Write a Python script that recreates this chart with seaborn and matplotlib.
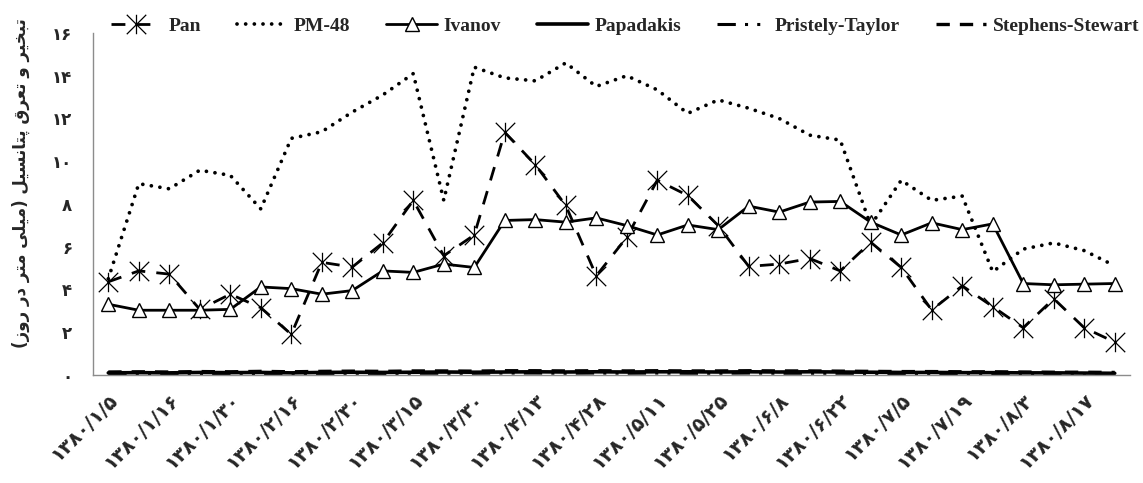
import matplotlib
matplotlib.use("Agg")
import matplotlib.pyplot as plt
import seaborn as sns
from matplotlib.path import Path

# data (34 weekly points)
date_labels = ["1380/1/5", "1380/1/16", "1380/1/30", "1380/2/16", "1380/2/30",
               "1380/3/15", "1380/3/30", "1380/4/13", "1380/4/28", "1380/5/11",
               "1380/5/25", "1380/6/8", "1380/6/22", "1380/7/5", "1380/7/19",
               "1380/8/3", "1380/8/17"]

pan = [4.36, 4.87, 4.72, 3.07, 3.78, 3.15, 1.90, 5.27, 5.05, 6.18, 8.17, 5.58,
       6.55, 11.35, 9.84, 7.93, 4.64, 6.44, 9.11, 8.40, 6.99, 5.08, 5.19, 5.45,
       4.87, 6.21, 5.03, 3.04, 4.17, 3.20, 2.21, 3.57, 2.21, 1.54]
pm48 = [4.50, 8.95, 8.71, 9.58, 9.34, 7.77, 11.07, 11.38, 12.30, 13.10, 14.10, 8.17,
        14.40, 13.90, 13.76, 14.60, 13.50, 14.00, 13.34, 12.24, 12.87, 12.48, 12.00, 11.22,
        10.99, 7.00, 9.11, 8.17, 8.37, 4.83, 5.89, 6.18, 5.82, 5.11]
ivanov = [3.31, 3.03, 3.03, 3.03, 3.07, 4.12, 4.04, 3.78, 3.95, 4.87, 4.80, 5.19,
          5.03, 7.23, 7.27, 7.15, 7.35, 6.99, 6.55, 7.02, 6.80, 7.90, 7.62, 8.09,
          8.12, 7.15, 6.55, 7.12, 6.80, 7.07, 4.28, 4.22, 4.25, 4.28]
papadakis = [0.10, 0.11, 0.10, 0.12, 0.11, 0.12, 0.10, 0.12, 0.13, 0.12, 0.13, 0.14,
             0.13, 0.14, 0.15, 0.14, 0.15, 0.14, 0.15, 0.15, 0.14, 0.15, 0.14, 0.15,
             0.14, 0.13, 0.12, 0.12, 0.11, 0.11, 0.10, 0.10, 0.09, 0.08]
pristely = [0.06, 0.05, 0.06, 0.07, 0.06, 0.07, 0.06, 0.07, 0.08, 0.07, 0.08, 0.08,
            0.08, 0.09, 0.09, 0.08, 0.09, 0.08, 0.09, 0.08, 0.08, 0.09, 0.08, 0.08,
            0.08, 0.07, 0.07, 0.06, 0.06, 0.06, 0.05, 0.05, 0.05, 0.04]
stephens = [0.14, 0.15, 0.14, 0.16, 0.15, 0.17, 0.15, 0.17, 0.18, 0.17, 0.19, 0.19,
            0.18, 0.20, 0.20, 0.19, 0.20, 0.19, 0.20, 0.19, 0.19, 0.20, 0.19, 0.19,
            0.18, 0.17, 0.16, 0.16, 0.15, 0.15, 0.14, 0.13, 0.13, 0.12]

y_label = "تبخیر و تعرق پتانسیل (میلی متر در روز)"

# matplotlib has no arabic shaping, so pick presentation forms by hand
FORMS = {  # isolated, final, initial, medial
    'ا': ('\uFE8D', '\uFE8E', None, None),
    'ب': ('\uFE8F', '\uFE90', '\uFE91', '\uFE92'),
    'پ': ('\uFB56', '\uFB57', '\uFB58', '\uFB59'),
    'ت': ('\uFE95', '\uFE96', '\uFE97', '\uFE98'),
    'خ': ('\uFEA5', '\uFEA6', '\uFEA7', '\uFEA8'),
    'د': ('\uFEA9', '\uFEAA', None, None),
    'ر': ('\uFEAD', '\uFEAE', None, None),
    'ز': ('\uFEAF', '\uFEB0', None, None),
    'س': ('\uFEB1', '\uFEB2', '\uFEB3', '\uFEB4'),
    'ع': ('\uFEC9', '\uFECA', '\uFECB', '\uFECC'),
    'ق': ('\uFED5', '\uFED6', '\uFED7', '\uFED8'),
    'ل': ('\uFEDD', '\uFEDE', '\uFEDF', '\uFEE0'),
    'م': ('\uFEE1', '\uFEE2', '\uFEE3', '\uFEE4'),
    'ن': ('\uFEE5', '\uFEE6', '\uFEE7', '\uFEE8'),
    'و': ('\uFEED', '\uFEEE', None, None),
    'ی': ('\uFBFC', '\uFBFD', '\uFBFE', '\uFBFF'),
}


def shape_fa(text):
    out = []
    for i, ch in enumerate(text):
        if ch not in FORMS:
            out.append(ch)
            continue
        prev = text[i - 1] if i > 0 else ''
        nxt = text[i + 1] if i + 1 < len(text) else ''
        join_prev = prev in FORMS and FORMS[prev][2] is not None
        join_next = FORMS[ch][2] is not None and nxt in FORMS
        iso, fin, ini, med = FORMS[ch]
        if join_prev and join_next:
            out.append(med)
        elif join_prev:
            out.append(fin)
        elif join_next:
            out.append(ini)
        else:
            out.append(iso)
    vis = ''.join(reversed(out))
    return vis.translate(str.maketrans('()', ')('))


def fa_digits(s):
    return s.translate(str.maketrans('0123456789', '۰۱۲۳۴۵۶۷۸۹'))


sns.set_style("white")
plt.rcParams['font.family'] = ['DejaVu Sans']

x = list(range(len(pan)))

# excel style star marker: vertical bar + X
star = Path([(0, -1), (0, 1), (-1, -1), (1, 1), (-1, 1), (1, -1)],
            [Path.MOVETO, Path.LINETO] * 3)

fig = plt.figure(figsize=(11.43, 4.83), dpi=100)
ax = fig.add_axes([0.0814, 0.2236, 0.9072, 0.7081])

sns.lineplot(x=x, y=papadakis, ax=ax, color='black', lw=2.6, label='Papadakis')
sns.lineplot(x=x, y=pristely, ax=ax, color='black', lw=2.2,
             linestyle=(0, (6, 3, 1, 3, 1, 3)), label='Pristely-Taylor')
sns.lineplot(x=x, y=stephens, ax=ax, color='black', lw=2.4,
             linestyle=(0, (4, 3)), label='Stephens-Stewart')
sns.lineplot(x=x, y=pm48, ax=ax, color='black', lw=2.7,
             linestyle=(0, (0.01, 2.3)), dash_capstyle='round', label='PM-48')
sns.lineplot(x=x, y=pan, ax=ax, color='black', lw=2.0, linestyle=(0, (5, 4)),
             marker=star, markersize=14, mfc='none', mec='black', mew=0.9,
             label='Pan')
sns.lineplot(x=x, y=ivanov, ax=ax, color='black', lw=2.0, marker='^',
             markersize=10, mfc='white', mec='black', mew=1.0, label='Ivanov')

ax.set_xlim(-0.5, len(pan) - 0.5)
ax.set_ylim(0, 16)
ax.set_yticks(range(0, 17, 2))
ax.set_yticklabels([fa_digits(str(v)) for v in range(0, 17, 2)],
                   fontsize=12, fontweight='bold')
ax.set_xticks(range(0, len(pan), 2))
ax.set_xticklabels([fa_digits(d) for d in date_labels], rotation=45,
                   ha='right', rotation_mode='anchor', fontsize=14,
                   fontweight='bold')
ax.set_xticks([v - 0.5 for v in range(len(pan) + 1)], minor=True)
ax.tick_params(axis='x', which='major', length=0, pad=11)
ax.tick_params(axis='x', which='minor', direction='inout', length=9,
               color='#8c8c8c', width=1)
ax.tick_params(axis='y', direction='inout', length=10, color='#8c8c8c',
               width=1, pad=10)
for side in ['top', 'right']:
    ax.spines[side].set_visible(False)
for side in ['left', 'bottom']:
    ax.spines[side].set_color('#8c8c8c')
    ax.spines[side].set_linewidth(1)
ax.set_xlabel("")
ax.set_ylabel("")

fig.text(0.018, 0.62, shape_fa(y_label), rotation=90, ha='center',
         va='center', fontsize=12, fontweight='bold')

handles, labels = ax.get_legend_handles_labels()
ax.get_legend().remove()
order = ['Pan', 'PM-48', 'Ivanov', 'Papadakis', 'Pristely-Taylor',
         'Stephens-Stewart']
hmap = dict(zip(labels, handles))
fig.legend([hmap[k] for k in order], order, loc='upper center',
           bbox_to_anchor=(0.547, 1.0), ncol=6, frameon=False,
           handlelength=2.6, columnspacing=1.85, handletextpad=0.35,
           prop={'family': 'Liberation Serif', 'weight': 'bold', 'size': 14})

plt.savefig("out.png", dpi=100)
plt.close()
